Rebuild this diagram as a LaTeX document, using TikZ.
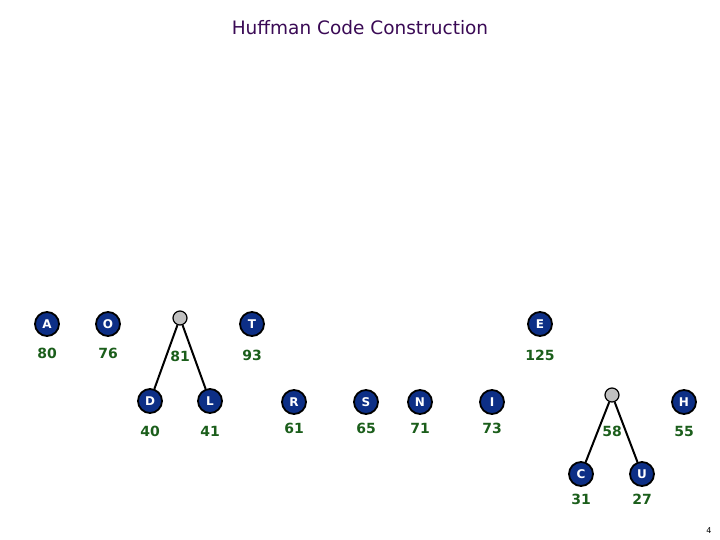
\documentclass[tikz,border=0pt]{standalone}
\usepackage{fontspec}
\setmainfont{DejaVu Sans}
\definecolor{navy}{HTML}{0D2F86}
\definecolor{numgreen}{HTML}{1B5E1B}
\definecolor{titlepurple}{HTML}{3A0A55}
\definecolor{grayfill}{HTML}{C0C0C0}
\begin{document}
\begin{tikzpicture}[x=1pt,y=-1pt,
  leaf/.style={circle,draw=black,line width=1.8pt,fill=navy,minimum size=24pt,inner sep=0pt,text=white,font=\fontsize{12}{12}\selectfont\bfseries},
  inner/.style={circle,draw=black,line width=1.2pt,fill=grayfill,minimum size=14pt,inner sep=0pt},
  weight/.style={text=numgreen,font=\fontsize{14}{14}\selectfont\bfseries,inner sep=0pt},
  edge/.style={draw=black,line width=2pt}]
\useasboundingbox (0,0) rectangle (720,540);
\node[text=titlepurple,font=\fontsize{18.5}{18.5}\selectfont] (title) at (360,28) {Huffman Code Construction};
% row 1
\node[leaf] (A) at (47,324) {A};
\node[weight] (wA) at (47,353) {80};
\node[leaf] (O) at (108,324) {O};
\node[weight] (wO) at (108,353) {76};
\node[inner] (p1) at (180,318) {};
\node[weight] (wp1) at (180,356) {81};
\node[leaf] (T) at (252,324) {T};
\node[weight] (wT) at (252,355) {93};
\node[leaf] (E) at (540,324) {E};
\node[weight] (wE) at (540,355) {125};
% row 2
\node[leaf] (D) at (150,401) {D};
\node[weight] (wD) at (150,431) {40};
\node[leaf] (L) at (210,401) {L};
\node[weight] (wL) at (210,431) {41};
\node[leaf] (R) at (294,402) {R};
\node[weight] (wR) at (294,428) {61};
\node[leaf] (S) at (366,402) {S};
\node[weight] (wS) at (366,428) {65};
\node[leaf] (N) at (420,402) {N};
\node[weight] (wN) at (420,428) {71};
\node[leaf] (I) at (492,402) {I};
\node[weight] (wI) at (492,428) {73};
\node[inner] (p2) at (612,395) {};
\node[weight] (wp2) at (612,431) {58};
\node[leaf] (H) at (684,402) {H};
\node[weight] (wH) at (684,431) {55};
% row 3
\node[leaf] (C) at (581,474) {C};
\node[weight] (wC) at (581,499) {31};
\node[leaf] (U) at (642,474) {U};
\node[weight] (wU) at (642,499) {27};
% edges
\draw[edge] (p1) -- (D);
\draw[edge] (p1) -- (L);
\draw[edge] (p2) -- (C);
\draw[edge] (p2) -- (U);
\node[font=\fontsize{8}{8}\selectfont] (pg) at (709,531) {4};
\end{tikzpicture}
\end{document}
